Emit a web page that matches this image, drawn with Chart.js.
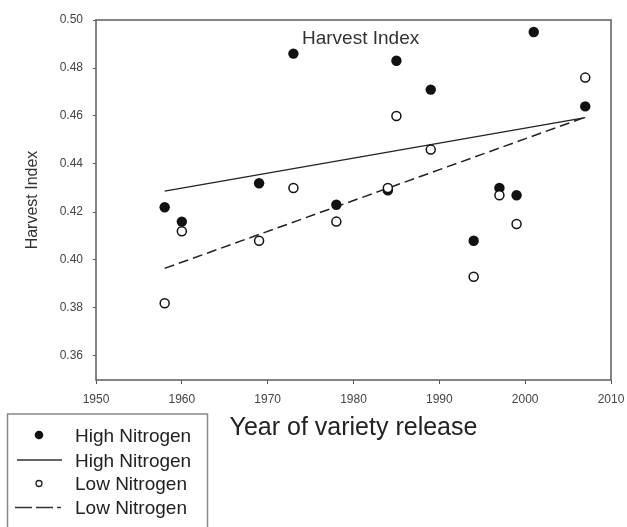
<!DOCTYPE html>
<html>
<head>
<meta charset="utf-8">
<script src="https://cdn.jsdelivr.net/npm/chart.js@4.4.1/dist/chart.umd.min.js"></script>
<style>
  html, body { margin: 0; padding: 0; background: #fff; overflow: hidden; }
  #wrap { position: relative; width: 627px; height: 527px; }
  #c { position: absolute; left: 0; top: 0; }
  #ov { position: absolute; left: 0; top: 0; pointer-events: none; }
</style>
</head>
<body>
<div id="wrap">
  <canvas id="c" width="627" height="527"></canvas>
  <svg id="ov" width="627" height="527" xmlns="http://www.w3.org/2000/svg" font-family="'Liberation Sans', Arial, sans-serif">
    <text x="302" y="43.8" font-size="19" fill="#333">Harvest Index</text>
    <rect x="7.5" y="414" width="200" height="130" fill="#fff" stroke="#888" stroke-width="1.5"/>
    <circle cx="39" cy="435" r="4.3" fill="#111"/>
    <text x="75" y="441.8" font-size="19" fill="#222">High Nitrogen</text>
    <line x1="17" y1="460" x2="62" y2="460" stroke="#333" stroke-width="1.5"/>
    <text x="75" y="466.8" font-size="19" fill="#222">High Nitrogen</text>
    <circle cx="39" cy="483.5" r="3" fill="#fff" stroke="#222" stroke-width="1.3"/>
    <text x="75" y="490.3" font-size="19" fill="#222">Low Nitrogen</text>
    <path d="M15 507.5 H32 M36 507.5 H53 M57 507.5 H61" stroke="#333" stroke-width="1.5" fill="none"/>
    <text x="75" y="514.3" font-size="19" fill="#222">Low Nitrogen</text>
  </svg>
</div>
<script>
// ---- data ----
const highYears = [1958, 1960, 1969, 1973, 1978, 1984, 1985, 1989, 1994, 1997, 1999, 2001, 2007];
const highHI    = [0.422, 0.416, 0.432, 0.486, 0.423, 0.429, 0.483, 0.471, 0.408, 0.430, 0.427, 0.495, 0.464];
const lowYears  = [1958, 1960, 1969, 1973, 1978, 1984, 1985, 1989, 1994, 1997, 1999, 2007];
const lowHI     = [0.382, 0.412, 0.408, 0.430, 0.416, 0.430, 0.460, 0.446, 0.393, 0.427, 0.415, 0.476];
const fitYears  = [1958, 2007];
const highFit   = [0.4287, 0.4593];
const lowFit    = [0.3965, 0.4595];
const xTicks = [1950, 1960, 1970, 1980, 1990, 2000, 2010];
const yTicks = [0.36, 0.38, 0.40, 0.42, 0.44, 0.46, 0.48, 0.50];

const pts = (xs, ys) => xs.map((x, i) => ({ x: x, y: ys[i] }));
const FONT = "'Liberation Sans', Arial, sans-serif";

const framePlugin = {
  id: 'frame',
  afterDraw(chart) {
    const { ctx, chartArea: a } = chart;
    ctx.save();
    ctx.strokeStyle = '#666';
    ctx.lineWidth = 1.6;
    ctx.strokeRect(a.left, a.top, a.right - a.left, a.bottom - a.top);
    ctx.restore();
  }
};

new Chart(document.getElementById('c'), {
  type: 'scatter',
  data: {
    datasets: [
      { label: 'Low Nitrogen', data: pts(lowYears, lowHI), order: 0,
        pointRadius: 4.5, pointHoverRadius: 4.5, backgroundColor: '#fff', borderColor: '#111', borderWidth: 1.5, showLine: false },
      { label: 'High Nitrogen', data: pts(highYears, highHI), order: 1,
        pointRadius: 5.2, pointHoverRadius: 5.2, backgroundColor: '#111', borderColor: '#111', borderWidth: 0, showLine: false },
      { label: 'High Nitrogen fit', data: pts(fitYears, highFit), order: 2,
        showLine: true, pointRadius: 0, borderColor: '#222', borderWidth: 1.3, fill: false },
      { label: 'Low Nitrogen fit', data: pts(fitYears, lowFit), order: 2,
        showLine: true, pointRadius: 0, borderColor: '#222', borderWidth: 1.5, borderDash: [10, 5], fill: false }
    ]
  },
  options: {
    responsive: false,
    animation: false,
    events: [],
    layout: { padding: { top: 20, right: 16, left: 0, bottom: 72 } },
    plugins: { legend: { display: false }, tooltip: { enabled: false }, title: { display: false } },
    scales: {
      x: {
        type: 'linear', min: 1950, max: 2010,
        afterBuildTicks: (ax) => { ax.ticks = xTicks.map(v => ({ value: v })); },
        afterFit: (s) => { s.height = 75; s.paddingLeft = 0; s.paddingRight = 0; },
        ticks: { color: '#444', font: { family: FONT, size: 12 }, padding: 8.5, maxRotation: 0, autoSkip: false,
                 callback: (v) => String(v) },
        grid: { display: true, drawOnChartArea: false, drawTicks: true, tickLength: 4, color: '#555' },
        border: { display: false },
        title: { display: true, text: 'Year of variety release', color: '#222',
                 font: { family: FONT, size: 25 }, padding: { top: 0, bottom: 12 } }
      },
      y: {
        type: 'linear', min: 0.35, max: 0.50,
        afterBuildTicks: (ax) => { ax.ticks = yTicks.map(v => ({ value: v })); },
        afterFit: (s) => { s.width = 96; s.paddingTop = 0; s.paddingBottom = 0; },
        ticks: { color: '#444', font: { family: FONT, size: 12 }, padding: 10, autoSkip: false,
                 callback: (v) => Number(v).toFixed(2) },
        grid: { display: true, drawOnChartArea: false, drawTicks: true, tickLength: 3, color: '#555' },
        border: { display: false },
        title: { display: true, text: 'Harvest Index', color: '#333',
                 font: { family: FONT, size: 16 }, padding: { top: 23, bottom: 0 } }
      }
    }
  },
  plugins: [framePlugin]
});
</script>
</body>
</html>
